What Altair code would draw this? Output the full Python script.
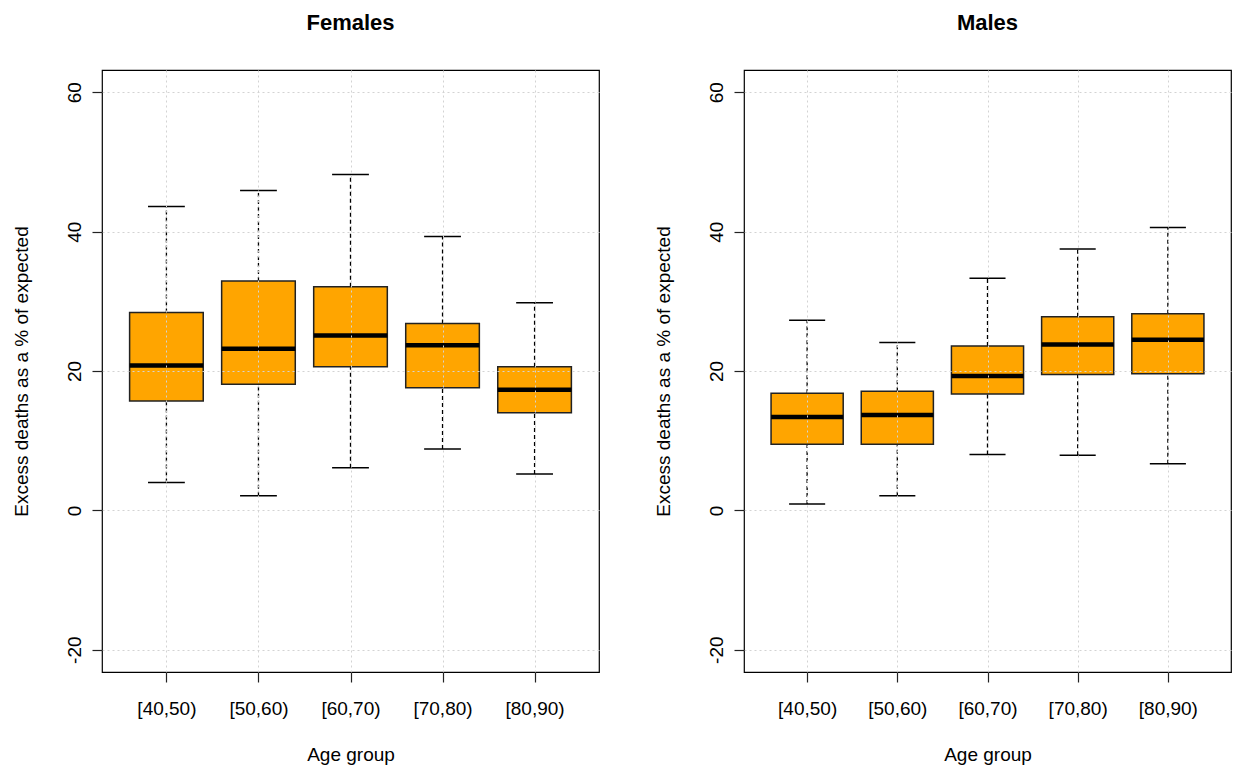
import altair as alt
import pandas as pd

age_groups = ["[40,50)", "[50,60)", "[60,70)", "[70,80)", "[80,90)"]

fem_low = [4.0, 2.1, 6.1, 8.8, 5.2]
fem_q1 = [15.7, 18.1, 20.6, 17.6, 14.0]
fem_med = [20.8, 23.2, 25.1, 23.7, 17.3]
fem_q3 = [28.4, 32.9, 32.1, 26.8, 20.6]
fem_high = [43.6, 45.9, 48.2, 39.3, 29.8]

male_low = [0.9, 2.1, 8.0, 7.9, 6.7]
male_q1 = [9.5, 9.5, 16.7, 19.5, 19.6]
male_med = [13.4, 13.7, 19.3, 23.8, 24.5]
male_q3 = [16.8, 17.1, 23.6, 27.8, 28.2]
male_high = [27.3, 24.1, 33.3, 37.5, 40.6]

y_ticks = [-20, 0, 20, 40, 60]
FONT = "Liberation Sans"
ORANGE = "#FFA500"


def panel(title, low, q1, med, q3, high, width):
    df = pd.DataFrame({
        "pos": list(range(1, len(age_groups) + 1)),
        "grp": age_groups,
        "low": low, "q1": q1, "med": med, "q3": q3, "high": high,
    })
    label_expr = "[" + ",".join(f"'{g}'" for g in age_groups) + "][datum.value - 1]"
    xs = alt.Scale(domain=[0.3, 5.7], nice=False, zero=False)
    ys = alt.Scale(domain=[-23.2, 63.2], nice=False, zero=False)
    x_axis = alt.Axis(values=list(range(1, 6)), labelExpr=label_expr, title="Age group",
                      labelBaseline="alphabetic", labelPadding=32,
                      titleBaseline="alphabetic", titleY=88, zindex=1)
    y_axis = alt.Axis(values=y_ticks, title="Excess deaths as a % of expected",
                      labelExpr="'' + datum.value",
                      labelAngle=270, labelAlign="center", labelBaseline="alphabetic",
                      labelPadding=12, titleAngle=270, titleAlign="center",
                      titleBaseline="alphabetic", titleX=-75, titleY=301, zindex=1)
    base = alt.Chart(df).transform_calculate(
        b0="datum.pos - 0.4", b1="datum.pos + 0.4",
        c0="datum.pos - 0.2", c1="datum.pos + 0.2",
    )
    whisk_hi = base.mark_rule(color="black", strokeWidth=1.3, strokeDash=[4, 3]).encode(
        x=alt.X("pos:Q", scale=xs, axis=x_axis),
        y=alt.Y("q3:Q", scale=ys, axis=y_axis),
        y2="high:Q",
    )
    whisk_lo = base.mark_rule(color="black", strokeWidth=1.3, strokeDash=[4, 3]).encode(
        x=alt.X("pos:Q", scale=xs), y=alt.Y("low:Q", scale=ys), y2="q1:Q",
    )
    cap_hi = base.mark_rule(color="black", strokeWidth=1.5).encode(
        x=alt.X("c0:Q", scale=xs), x2="c1:Q", y=alt.Y("high:Q", scale=ys),
    )
    cap_lo = base.mark_rule(color="black", strokeWidth=1.5).encode(
        x=alt.X("c0:Q", scale=xs), x2="c1:Q", y=alt.Y("low:Q", scale=ys),
    )
    box = base.mark_rect(fill=ORANGE, stroke="#222222", strokeWidth=1.5).encode(
        x=alt.X("b0:Q", scale=xs), x2="b1:Q",
        y=alt.Y("q1:Q", scale=ys), y2="q3:Q",
    )
    median = base.mark_rule(color="black", strokeWidth=4.5).encode(
        x=alt.X("b0:Q", scale=xs), x2="b1:Q", y=alt.Y("med:Q", scale=ys),
    )
    return alt.layer(whisk_hi, whisk_lo, cap_hi, cap_lo, box, median).properties(
        width=width, height=602,
        title=alt.Title(title, fontSize=22, font=FONT, fontWeight="bold", color="black",
                        baseline="alphabetic", offset=18, frame="group", anchor="middle"),
    )


chart = alt.hconcat(
    panel("Females", fem_low, fem_q1, fem_med, fem_q3, fem_high, 497),
    panel("Males", male_low, male_q1, male_med, male_q3, male_high, 487),
    spacing=53,
).properties(
    padding={"left": 3, "top": 3, "right": 0, "bottom": 0},
).configure_view(
    stroke="black", strokeWidth=1.2,
).configure_axis(
    domain=False, grid=True, gridColor="#D3D3D3", gridDash=[2, 3], gridWidth=1,
    tickColor="#222222", tickSize=10, tickWidth=1.2,
    labelFont=FONT, labelFontSize=19, labelColor="black",
    titleFont=FONT, titleFontSize=19, titleColor="black", titleFontWeight="normal",
)

chart.save("out.html", embed_options={"renderer": "svg", "actions": False})
